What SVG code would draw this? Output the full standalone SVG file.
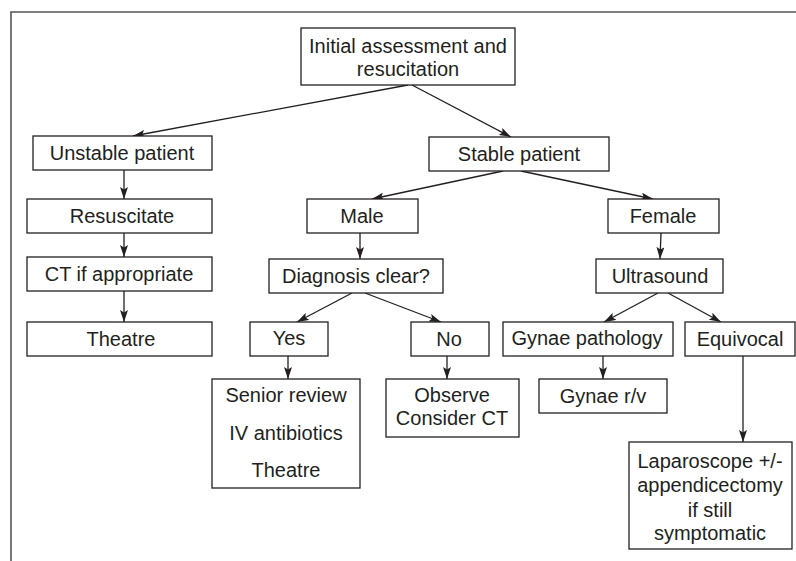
<svg xmlns="http://www.w3.org/2000/svg" width="796" height="561" viewBox="0 0 796 561">
<style>
.box{fill:#fff;stroke:#231f20;stroke-width:1.3}
.t{font-family:"Liberation Sans",Arial,sans-serif;font-size:20px;fill:#231f20;text-anchor:middle}
.c{stroke:#231f20;stroke-width:1.3;fill:none;marker-end:url(#ah)}
.frame{stroke:#555;stroke-width:1.6;fill:none}
</style>
<defs>
<marker id="ah" markerUnits="userSpaceOnUse" viewBox="0 0 12 8" markerWidth="12" markerHeight="8" refX="12" refY="4" orient="auto">
<path d="M0,0 L12,4 L0,8 L2.5,4 z" fill="#231f20"/>
</marker>
</defs>
<rect width="796" height="561" fill="#fff"/>
<path class="frame" d="M11,561 V12 H796"/>
<g id="connectors">
<line class="c" x1="408" y1="85" x2="133" y2="136"/>
<line class="c" x1="412" y1="85" x2="511" y2="137"/>
<line class="c" x1="124" y1="170" x2="124" y2="199"/>
<line class="c" x1="124" y1="233" x2="124" y2="257"/>
<line class="c" x1="124" y1="291" x2="124" y2="322"/>
<line class="c" x1="503" y1="171" x2="372" y2="199"/>
<line class="c" x1="521" y1="171" x2="653" y2="199"/>
<line class="c" x1="360" y1="233" x2="360" y2="259"/>
<line class="c" x1="352" y1="293" x2="297" y2="322"/>
<line class="c" x1="365" y1="293" x2="441" y2="322"/>
<line class="c" x1="288" y1="356" x2="288" y2="379"/>
<line class="c" x1="447" y1="356" x2="447" y2="379"/>
<line class="c" x1="661" y1="233" x2="660" y2="259"/>
<line class="c" x1="658" y1="293" x2="604" y2="322"/>
<line class="c" x1="668" y1="293" x2="721" y2="322"/>
<line class="c" x1="603" y1="356" x2="603" y2="379"/>
<line class="c" x1="743" y1="356" x2="743" y2="442"/>
</g>
<g id="initial"><rect class="box" x="301" y="28" width="214" height="57"/><text class="t" x="408" y="53">Initial assessment and</text><text class="t" x="408" y="76">resucitation</text></g>
<g id="unstable"><rect class="box" x="33" y="136" width="179" height="34"/><text class="t" x="122" y="160">Unstable patient</text></g>
<g id="stable"><rect class="box" x="429" y="137" width="180" height="34"/><text class="t" x="519" y="161">Stable patient</text></g>
<g id="resuscitate"><rect class="box" x="27" y="199" width="185" height="34"/><text class="t" x="122" y="223">Resuscitate</text></g>
<g id="ct"><rect class="box" x="27" y="257" width="185" height="34"/><text class="t" x="119" y="281">CT if appropriate</text></g>
<g id="theatre"><rect class="box" x="27" y="322" width="185" height="34"/><text class="t" x="121" y="346">Theatre</text></g>
<g id="male"><rect class="box" x="307" y="199" width="111" height="34"/><text class="t" x="362" y="223">Male</text></g>
<g id="diagnosis"><rect class="box" x="269" y="259" width="174" height="34"/><text class="t" x="356" y="283">Diagnosis clear?</text></g>
<g id="yes"><rect class="box" x="250" y="322" width="78" height="34"/><text class="t" x="289" y="345">Yes</text></g>
<g id="no"><rect class="box" x="411" y="322" width="78" height="34"/><text class="t" x="449" y="346">No</text></g>
<g id="senior"><rect class="box" x="212" y="379" width="148" height="109"/><text class="t" x="286" y="402">Senior review</text><text class="t" x="286" y="440">IV antibiotics</text><text class="t" x="286" y="477">Theatre</text></g>
<g id="observe"><rect class="box" x="386" y="379" width="133" height="58"/><text class="t" x="452" y="402">Observe</text><text class="t" x="452" y="425">Consider CT</text></g>
<g id="female"><rect class="box" x="608" y="199" width="111" height="34"/><text class="t" x="663" y="223">Female</text></g>
<g id="ultrasound"><rect class="box" x="596" y="259" width="127" height="34"/><text class="t" x="660" y="283">Ultrasound</text></g>
<g id="gynaepath"><rect class="box" x="503" y="322" width="170" height="34"/><text class="t" x="587" y="345">Gynae pathology</text></g>
<g id="equivocal"><rect class="box" x="685" y="322" width="110" height="34"/><text class="t" x="740" y="346">Equivocal</text></g>
<g id="gynaerv"><rect class="box" x="539" y="379" width="128" height="34"/><text class="t" x="603" y="403">Gynae r/v</text></g>
<g id="laparoscope"><rect class="box" x="629" y="442" width="163" height="107"/><text class="t" x="710" y="468">Laparoscope +/-</text><text class="t" x="710" y="492">appendicectomy</text><text class="t" x="710" y="517">if still</text><text class="t" x="710" y="540">symptomatic</text></g>
</svg>
